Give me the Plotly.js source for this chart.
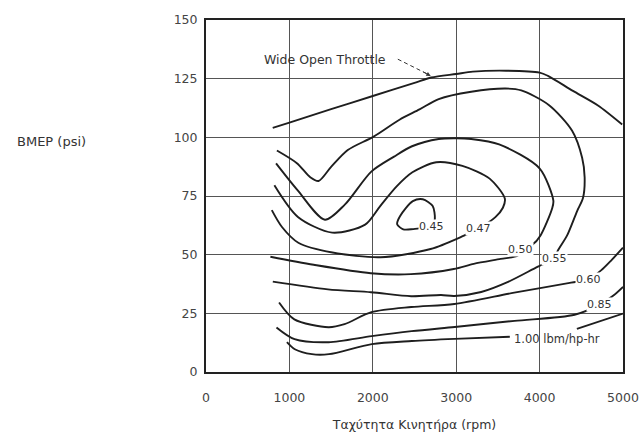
<!DOCTYPE html>
<html><head><meta charset="utf-8">
<script src="https://cdn.plot.ly/plotly-3.0.1.min.js"></script>
<style>html,body{margin:0;padding:0;background:#fff;} #chart{width:640px;height:436px;}</style>
</head><body><div id="chart"></div>
<script>
// Axis ticks
const xTicks = [0, 1000, 2000, 3000, 4000, 5000];
const yTicks = [0, 25, 50, 75, 100, 125, 150];

// Wide open throttle curve (rpm, psi)
const wotX = [800, 1000, 1500, 2000, 2500, 2700, 3000, 3200, 3600, 4000, 4100, 4400, 4700, 4990];
const wotY = [104, 106.3, 112, 117.6, 123.2, 125.5, 127, 128, 128.4, 127.6, 126.2, 119.8, 113.6, 105.5];

// BSFC contours (lbm/hp-hr), path order
const c055X = [850, 1090, 1250, 1350, 1500, 1700, 2010, 2320, 2560, 2790, 3180, 3590, 3780, 4110, 4390, 4510, 4540, 4520, 4450, 4330, 4214, 4183, 3980, 3622, 3300, 2976, 2819, 2460, 1978, 1462, 801];
const c055Y = [94.4, 89, 83, 81.4, 87.4, 94.6, 100.3, 107.5, 111.9, 116.3, 119.4, 120.8, 120, 113.8, 102.8, 91.3, 83, 74.1, 68.6, 58.2, 51.4, 48.4, 44.9, 38.4, 34.1, 32.4, 32.8, 32.3, 34.0, 35.2, 38.5];

const c050X = [840, 1097, 1426, 1664, 1982, 2255, 2470, 2790, 3000, 3180, 3515, 3999, 4165, 4150, 4011, 3916, 3773, 3739, 3534, 3211, 2971, 2456, 1976, 1291, 772];
const c050Y = [88.9, 77.5, 64.9, 71.3, 85.4, 91.8, 96.2, 99.3, 99.6, 99.3, 97, 86.8, 73, 69.7, 58.2, 54.3, 52.2, 49.6, 48.2, 46.1, 43.9, 41.7, 42.1, 45.7, 49.1];

const c047X = [820, 1102, 1513, 1908, 2084, 2286, 2475, 2761, 3074, 3401, 3583, 3560, 3470, 3262, 3086, 2693, 2094, 1516, 1107, 911, 789];
const c047Y = [79.6, 66.1, 59.4, 62.8, 70.5, 79.1, 85.1, 89.4, 87.8, 82.4, 73.9, 70, 66, 61, 58, 52.4, 48.9, 50.9, 55.1, 61.8, 69.0];

const c045X = [2620, 2485, 2365, 2292, 2326, 2480, 2599, 2718, 2744, 2720];
const c045Y = [61.5, 60.9, 60.8, 63, 66.4, 72.8, 73.6, 70.7, 65.2, 62.5];

const c060X = [876, 1059, 1469, 1661, 1983, 2462, 2977, 3696, 4378, 4582, 4737, 4860, 5000];
const c060Y = [29.6, 22.4, 19.1, 20.4, 25.5, 27.7, 29.0, 33.8, 38.1, 39.4, 43.3, 47.6, 53];

const c085X = [845, 1062, 1471, 1987, 2466, 2982, 3701, 4420, 4718, 4885, 5000];
const c085Y = [19.0, 14.0, 12.7, 15.3, 17.4, 19.2, 21.8, 24.4, 28.7, 32.6, 36.3];

const c100X = [970, 1065, 1270, 1474, 1988, 2469, 2983, 3643, null, 4447, 5000];
const c100Y = [12.7, 9.7, 7.6, 7.6, 11.9, 13.2, 14.1, 15.0, null, 18.4, 24.9];

// Contour labels
const labelText = ['0.45', '0.47', '0.50', '0.55', '0.60', '0.85'];
const labelX = [2700, 3262, 3773, 4183, 4582, 4718];
const labelY = [61.8, 61, 52.2, 48.4, 39.4, 28.7];
const unitLabel = '1.00 lbm/hp-hr';
const unitX = 3667, unitY = 14.1;

// Wide open throttle callout
const wotText = 'Wide Open Throttle';
const wotTextX = 1430, wotTextY = 133.3;
const leaderX = [2300, 2660];
const leaderY = [133.3, 126.9];
const arrowTip = [2695, 126.1];

const lineStyle = {color: '#1e1e1e', width: 1.9, shape: 'spline', smoothing: 0.8};
function curve(x, y) {
  return {type: 'scatter', mode: 'lines', x: x, y: y, line: lineStyle, hoverinfo: 'skip', showlegend: false, connectgaps: false};
}

const traces = [
  curve(wotX, wotY),
  curve(c055X, c055Y),
  curve(c050X, c050Y),
  curve(c047X, c047Y),
  curve(c045X, c045Y),
  curve(c060X, c060Y),
  curve(c085X, c085Y),
  curve(c100X, c100Y),
  {type: 'scatter', mode: 'lines', x: leaderX, y: leaderY,
   line: {color: '#333', width: 1, dash: '4px,3px'}, hoverinfo: 'skip', showlegend: false}
];

const F = 'DejaVu Sans, Liberation Sans, Arial, sans-serif';
const annotations = labelText.map((t, i) => ({
  x: labelX[i], y: labelY[i], xref: 'x', yref: 'y', text: t, showarrow: false,
  font: {family: F, size: 11, color: '#333'}, bgcolor: '#ffffff', borderpad: 0,
  xanchor: 'center', yanchor: 'middle'
}));
annotations.push({x: unitX, y: unitY, xref: 'x', yref: 'y', text: unitLabel, showarrow: false,
  font: {family: F, size: 11.5, color: '#333'}, xanchor: 'left', yanchor: 'middle'});
annotations.push({x: wotTextX, y: wotTextY, xref: 'x', yref: 'y', text: wotText, showarrow: false,
  font: {family: F, size: 12.5, color: '#333'}, xanchor: 'center', yanchor: 'middle'});
annotations.push({x: arrowTip[0], y: arrowTip[1], xref: 'x', yref: 'y', text: '', showarrow: true,
  arrowhead: 2, arrowsize: 0.9, arrowwidth: 1, arrowcolor: '#333', ax: -9, ay: -5});
annotations.push({x: -0.37, y: 0.655, xref: 'paper', yref: 'paper', text: 'BMEP (psi)', showarrow: false,
  font: {family: F, size: 13, color: '#333'}, xanchor: 'center', yanchor: 'middle'});

const layout = {
  width: 640, height: 436,
  margin: {l: 206, r: 17, t: 20, b: 64},
  paper_bgcolor: '#ffffff', plot_bgcolor: '#ffffff',
  font: {family: F, color: '#444'},
  xaxis: {
    range: [0, 5000], tickvals: xTicks, ticktext: xTicks.map(String),
    showgrid: true, gridcolor: '#555', gridwidth: 1, zeroline: false,
    showline: true, linecolor: '#222', linewidth: 2, mirror: true,
    ticks: 'outside', ticklen: 13, tickcolor: 'rgba(0,0,0,0)',
    tickfont: {family: F, size: 12.5, color: '#444'},
    title: {text: 'Ταχύτητα Κινητήρα (rpm)', font: {family: F, size: 12.5, color: '#333'}, standoff: 16}
  },
  yaxis: {
    range: [0, 150], tickvals: yTicks, ticktext: yTicks.map(String),
    showgrid: true, gridcolor: '#555', gridwidth: 1, zeroline: false,
    showline: true, linecolor: '#222', linewidth: 2, mirror: true,
    ticks: 'outside', ticklen: 4, tickcolor: 'rgba(0,0,0,0)',
    tickfont: {family: F, size: 12.5, color: '#444'}
  },
  annotations: annotations
};

Plotly.newPlot('chart', traces, layout, {staticPlot: true, displayModeBar: false});
</script></body></html>
